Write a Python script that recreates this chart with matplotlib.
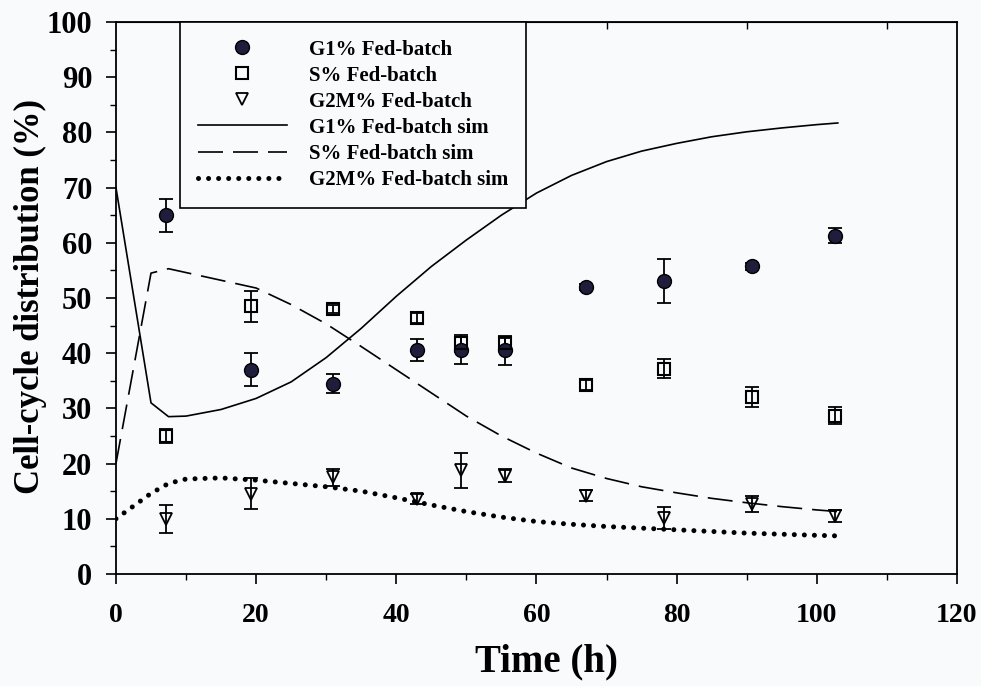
import numpy as np
import matplotlib
matplotlib.use("Agg")
import matplotlib.pyplot as plt
from matplotlib.ticker import MultipleLocator, FixedLocator

plt.rcParams['font.family'] = 'serif'
plt.rcParams['font.serif'] = ['Liberation Serif', 'DejaVu Serif']
plt.rcParams['font.weight'] = 'bold'

# measured cell-cycle fractions (%)
t_obs = [7.1, 19.3, 31.0, 43.0, 49.2, 55.5, 67.1, 78.2, 90.7, 102.6]
g1 = [65.0, 37.0, 34.5, 40.5, 40.5, 40.5, 52.0, 53.0, 55.7, 61.3]
g1_err = [3.0, 3.0, 1.7, 2.0, 2.5, 2.7, 0.5, 4.0, 0.7, 1.4]
s = [25.0, 48.5, 48.0, 46.3, 41.8, 41.8, 34.2, 37.2, 32.0, 28.7]
s_err = [1.3, 2.8, 0.8, 0.9, 1.5, 1.0, 0.9, 1.7, 1.8, 1.6]
g2m = [10.0, 14.5, 17.5, 13.5, 18.8, 17.8, 14.2, 10.2, 12.7, 10.5]
g2m_err = [2.5, 2.8, 1.5, 0.9, 3.2, 1.2, 1.0, 2.0, 1.5, 1.0]

# model simulation
t_sim = [0, 5, 7.5, 10, 15, 20, 25, 30, 35, 40, 45, 50, 55, 60, 65, 70,
         75, 80, 85, 90, 95, 100, 103]
g1_sim = [70, 31, 28.5, 28.6, 29.8, 31.8, 34.8, 39.2, 44.5, 50.3, 55.7, 60.5,
          65.0, 69.0, 72.2, 74.7, 76.6, 78.0, 79.2, 80.1, 80.8, 81.4, 81.7]
s_sim = [20, 54.5, 55.3, 54.6, 53.2, 51.8, 48.8, 45.3, 41.2, 37.0, 32.8, 28.6,
         25.0, 21.9, 19.2, 17.3, 15.8, 14.7, 13.7, 12.9, 12.2, 11.6, 11.3]
g2m_sim = [10, 14.6, 16.4, 17.2, 17.4, 17.0, 16.4, 15.8, 15.0, 13.8, 12.5, 11.3,
           10.3, 9.5, 9.0, 8.6, 8.3, 8.0, 7.7, 7.4, 7.2, 7.0, 6.9]

bg = '#f9fafc'
fig = plt.figure(figsize=(9.81, 6.86), dpi=100, facecolor=bg)
ax = fig.add_axes([0.1182, 0.1633, 0.8573, 0.8047], facecolor=bg)

ek = dict(fmt='none', ecolor='black', elinewidth=1.3, capsize=5, capthick=1.3, zorder=3)
ax.errorbar(t_obs, g1, yerr=g1_err, **ek)
ax.errorbar(t_obs, s, yerr=s_err, **ek)
ax.errorbar(t_obs, g2m, yerr=g2m_err, **ek)

ax.plot(t_obs, g1, 'o', ms=10, mfc='#1e1e3c', mec='black', mew=1.0,
        zorder=4, label='G1% Fed-batch')
ax.plot(t_obs, s, 's', ms=8, mfc='none', mec='black', mew=1.5,
        zorder=4, label='S% Fed-batch')
ax.plot(t_obs, g2m, 'v', ms=9, mfc='none', mec='black', mew=1.3,
        zorder=4, label='G2M% Fed-batch')

ax.plot(t_sim, g1_sim, '-', color='black', lw=1.2, label='G1% Fed-batch sim')
ax.plot(t_sim, s_sim, color='black', lw=1.2, dashes=(15, 6),
        label='S% Fed-batch sim')
ax.plot(t_sim, g2m_sim, color='black', lw=3.6, dashes=(0.01, 2.0),
        dash_capstyle='round', label='G2M% Fed-batch sim')

ax.set_xlim(0, 120)
ax.set_ylim(0, 100)
ax.xaxis.set_major_locator(MultipleLocator(20))
ax.xaxis.set_minor_locator(MultipleLocator(10))
ax.yaxis.set_major_locator(MultipleLocator(10))
ax.yaxis.set_minor_locator(MultipleLocator(5))
ax.tick_params(axis='both', which='major', direction='out', length=7, width=1.2)
ax.tick_params(axis='x', which='major', labelsize=20, pad=14)
ax.tick_params(axis='y', which='major', labelsize=22, pad=10)
ax.tick_params(axis='both', which='minor', direction='out', length=4, width=1.0)
for sp in ax.spines.values():
    sp.set_linewidth(1.3)

# inward ticks along the top edge
top = ax.secondary_xaxis('top')
top.xaxis.set_major_locator(FixedLocator([10, 30, 50, 70, 90, 110]))
top.tick_params(direction='in', length=5, width=1.0, labeltop=False)

ax.set_xlabel('Time (h)', fontsize=28, fontweight='bold', va='center')
ax.xaxis.set_label_coords((547 - 116) / 841, (574 - 662) / 552)
ax.set_ylabel('Cell-cycle distribution (%)', fontsize=25, fontweight='bold', va='center')
ax.yaxis.set_label_coords((31 - 116) / 841, (574 - 297) / 552)

leg = ax.legend(loc='upper left', bbox_to_anchor=((180 - 116) / 841, 1.0),
                borderaxespad=0, numpoints=1, handlelength=4.3, handletextpad=1.05,
                labelspacing=0.29, frameon=True, fancybox=False,
                borderpad=0.85, prop={'weight': 'bold', 'size': 15})
leg.get_frame().set_edgecolor('black')
leg.get_frame().set_linewidth(1.2)
leg.get_frame().set_facecolor(bg)
leg.get_frame().set_alpha(1)

fig.savefig('out.png', dpi=100, facecolor=bg)
